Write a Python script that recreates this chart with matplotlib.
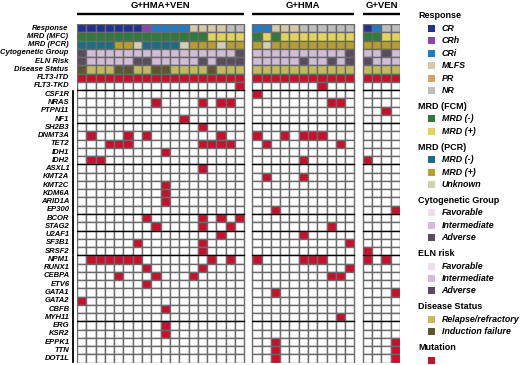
import numpy as np
import matplotlib
matplotlib.use("Agg")
import matplotlib.pyplot as plt
from matplotlib.patches import Rectangle

plt.rcParams['font.family'] = ['Liberation Sans', 'DejaVu Sans']

# ---- data ----
groups = ['G+HMA+VEN', 'G+HMA', 'G+VEN']
group_sizes = [18, 11, 4]

response = (['CR'] * 7 + ['CRh'] + ['CRi'] * 4 + ['MLFS'] * 4 + ['NR'] * 2
            + ['CRi', 'CRi'] + ['MLFS'] * 3 + ['NR'] * 6
            + ['CR', 'CRi', 'NR', 'NR'])
mrd_mfc = (['neg'] * 14 + ['pos'] * 4
           + ['neg', 'pos', 'neg'] + ['pos'] * 8
           + ['neg', 'neg', 'pos', 'pos'])
mrd_pcr = (['neg'] * 4 + ['pos', 'pos', 'unk'] + ['neg'] * 4 + ['unk'] + ['pos'] * 3
           + ['unk', 'pos', 'pos']
           + ['pos', 'unk'] + ['pos'] * 9
           + ['pos'] * 4)
cyto = (['Adv'] + ['Int'] * 16 + ['Adv']
        + ['Int'] * 10 + ['Adv']
        + ['Int', 'Int', 'Adv', 'Int'])
eln = (['Adv'] + ['Int'] * 5 + ['Adv'] * 2 + ['Int'] * 5 + ['Adv', 'Int'] + ['Adv'] * 3
       + ['Int'] * 5 + ['Adv', 'Int', 'Int', 'Adv', 'Int', 'Adv']
       + ['Adv', 'Int', 'Int', 'Int'])
disease = (['IF', 'RR', 'RR', 'RR', 'IF', 'IF', 'RR', 'RR', 'IF', 'IF',
            'RR', 'RR', 'RR', 'RR', 'IF', 'RR', 'RR', 'RR']
           + ['RR'] * 11 + ['RR'] * 4)

annot_rows = ['Response', 'MRD (MFC)', 'MRD (PCR)', 'Cytogenetic Group',
              'ELN Risk', 'Disease Status']
annot_values = [response, mrd_mfc, mrd_pcr, cyto, eln, disease]

genes = ['FLT3-ITD', 'FLT3-TKD', 'CSF1R', 'NRAS', 'PTPN11', 'NF1', 'SH2B3',
         'DNMT3A', 'TET2', 'IDH1', 'IDH2', 'ASXL1', 'KMT2A', 'KMT2C', 'KDM6A',
         'ARID1A', 'EP300', 'BCOR', 'STAG2', 'U2AF1', 'SF3B1', 'SRSF2', 'NPM1',
         'RUNX1', 'CEBPA', 'ETV6', 'GATA1', 'GATA2', 'CBFB', 'MYH11', 'ERG',
         'KSR2', 'EPPK1', 'TTN', 'DOT1L']

# mutated patient columns (0-17 G+HMA+VEN, 18-28 G+HMA, 29-32 G+VEN)
mutations = {
    'FLT3-ITD': list(range(33)),
    'FLT3-TKD': [17, 25],
    'CSF1R': [18],
    'NRAS': [8, 13, 15, 16, 26, 27],
    'PTPN11': [31],
    'NF1': [11],
    'SH2B3': [13],
    'DNMT3A': [1, 5, 7, 15, 18, 21, 23, 24, 25],
    'TET2': [3, 4, 5, 13, 14, 15, 16, 19, 27],
    'IDH1': [9],
    'IDH2': [1, 2, 23, 29],
    'ASXL1': [13],
    'KMT2A': [19, 23],
    'KMT2C': [9],
    'KDM6A': [9],
    'ARID1A': [9],
    'EP300': [20, 32],
    'BCOR': [7, 13, 15, 17],
    'STAG2': [8, 13, 16, 26],
    'U2AF1': [15, 23],
    'SF3B1': [6, 13, 28],
    'SRSF2': [13, 29],
    'NPM1': [1, 2, 3, 4, 5, 6, 14, 16, 18, 23, 24, 25, 29, 31],
    'RUNX1': [7, 13, 28],
    'CEBPA': [4, 8, 12, 26, 27],
    'ETV6': [7],
    'GATA1': [20, 32],
    'GATA2': [0],
    'CBFB': [9],
    'MYH11': [27],
    'ERG': [9],
    'KSR2': [9],
    'EPPK1': [20, 32],
    'TTN': [20, 32],
    'DOT1L': [20, 32],
}

# gene groups marked by bars on the left
gene_groups = [('CSF1R', 'NF1'), ('SH2B3', 'IDH2'), ('ASXL1', 'EP300'),
               ('BCOR', 'STAG2'), ('U2AF1', 'SRSF2'), ('NPM1', 'MYH11'),
               ('ERG', 'DOT1L')]

# ---- colours ----
mut_color = '#c8102e'
annot_colors = [
    {'CR': '#22318f', 'CRh': '#8e44ad', 'CRi': '#1f7bc8', 'MLFS': '#d5c9a8',
     'PR': '#d2a468', 'NR': '#bdbdbd'},
    {'neg': '#2f7a3c', 'pos': '#e3d35e'},
    {'neg': '#1b6d86', 'pos': '#b89f2c', 'unk': '#d2cfb2'},
    {'Fav': '#ebe0ec', 'Int': '#d2bcd8', 'Adv': '#5b4a60'},
    {'Fav': '#ebe0ec', 'Int': '#d2bcd8', 'Adv': '#5b4a60'},
    {'RR': '#c4b95f', 'IF': '#5e5530'},
]

legend_sections = [
    ('Response', ['CR', 'CRh', 'CRi', 'MLFS', 'PR', 'NR'],
     [annot_colors[0][k] for k in ['CR', 'CRh', 'CRi', 'MLFS', 'PR', 'NR']]),
    ('MRD (FCM)', ['MRD (-)', 'MRD (+)'],
     [annot_colors[1]['neg'], annot_colors[1]['pos']]),
    ('MRD (PCR)', ['MRD (-)', 'MRD (+)', 'Unknown'],
     [annot_colors[2]['neg'], annot_colors[2]['pos'], annot_colors[2]['unk']]),
    ('Cytogenetic Group', ['Favorable', 'Intermediate', 'Adverse'],
     [annot_colors[3][k] for k in ['Fav', 'Int', 'Adv']]),
    ('ELN risk', ['Favorable', 'Intermediate', 'Adverse'],
     [annot_colors[4][k] for k in ['Fav', 'Int', 'Adv']]),
    ('Disease Status', ['Relapse/refractory', 'Induction failure'],
     [annot_colors[5]['RR'], annot_colors[5]['IF']]),
    ('Mutation', [''], [mut_color]),
]

# ---- layout ----
W, H = 520, 365
fig = plt.figure(figsize=(W / 100, H / 100), dpi=100)
ax = fig.add_axes([77 / W, 1 - 362.7 / H, (400 - 77) / W, (362.7 - 24) / H])

group_start = [0, 18.85, 30.75]
col_x = []
for start, n in zip(group_start, group_sizes):
    col_x += [start + i for i in range(n)]

n_rows = len(annot_rows) + len(genes)
edge = '#6a6a6a'

for r, (vals, cmap) in enumerate(zip(annot_values, annot_colors)):
    for c, v in enumerate(vals):
        ax.add_patch(Rectangle((col_x[c], r), 1, 1, facecolor=cmap[v],
                               edgecolor=edge, lw=1.0))

for g, gene in enumerate(genes):
    r = len(annot_rows) + g
    hits = set(mutations[gene])
    for c in range(len(col_x)):
        fc = mut_color if c in hits else 'white'
        ax.add_patch(Rectangle((col_x[c], r), 1, 1, facecolor=fc,
                               edgecolor=edge, lw=1.0))

# row labels
lab_font = dict(fontsize=5.5, fontweight='bold', fontstyle='italic',
                ha='right', va='center')
for r, name in enumerate(annot_rows):
    ax.text(-0.95, r + 0.5, name, **lab_font)
for g, gene in enumerate(genes):
    ax.text(-0.8, len(annot_rows) + g + 0.5, gene, **lab_font)

# gene group bars and separators
for first, last in gene_groups:
    r0 = len(annot_rows) + genes.index(first)
    r1 = len(annot_rows) + genes.index(last) + 1
    ax.plot([-0.42, -0.42], [r0 + 0.1, r1 - 0.1], color='black', lw=1.3,
            clip_on=False)
    for start, n in zip(group_start, group_sizes):
        ax.plot([start, start + n], [r0, r0], color='black', lw=0.9)

# group titles
for name, start, n in zip(groups, group_start, group_sizes):
    ax.text(start + n / 2, -2.25, name, ha='center', va='center',
            fontsize=6.8, fontweight='bold', clip_on=False)
    ax.plot([start, start + n], [-1.25, -1.25], color='black', lw=1.7,
            clip_on=False, solid_capstyle='butt')

ax.set_xlim(0, 34.75)
ax.set_ylim(n_rows, 0)
ax.axis('off')

# legend
lax = fig.add_axes([0, 0, 1, 1], facecolor='none')
lax.set_xlim(0, W)
lax.set_ylim(H, 0)
lax.axis('off')
y = 16
for title, labels, colors in legend_sections:
    lax.text(418, y, title, fontsize=6.5, fontweight='bold', va='center')
    y += 12.5
    for lab, col in zip(labels, colors):
        lax.add_patch(Rectangle((427.5, y - 3.5), 7, 7, facecolor=col,
                                edgecolor='none'))
        lax.text(441.5, y, lab, fontsize=6.4, fontweight='bold',
                 fontstyle='italic', va='center')
        y += 12.4
    y += 3.5

fig.savefig('out.png', dpi=100)
